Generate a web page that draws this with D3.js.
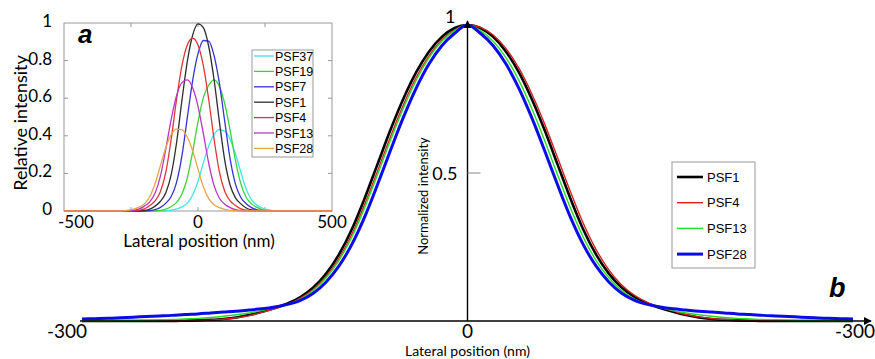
<!DOCTYPE html>
<html>
<head>
<meta charset="utf-8">
<script src="https://cdn.jsdelivr.net/npm/d3@7"></script>
<style>
  body { margin: 0; background: #fff; }
  svg { display: block; }
</style>
</head>
<body>
<svg id="chart" width="875" height="359"></svg>
<script>
// ---- panel b : normalized profiles, lateral position in nm ----
const mainPos = [-300,-290,-280,-270,-260,-250,-240,-230,-220,-210,-200,-190,-180,-170,-160,-150,-140,-130,-120,-110,
  -100,-90,-80,-70,-60,-50,-40,-30,-20,-10,0,10,20,30,40,50,60,70,80,90,100,110,120,130,140,150,160,170,180,190,
  200,210,220,230,240,250,260,270,280,290,300];
const mainNames = ["PSF1", "PSF4", "PSF13", "PSF28"];
const mainPsf1 = [0,0,0,0,0,0,0,0,.001,.002,.004,.007,.012,.02,.031,.044,.059,.081,.113,.16,.225,.31,.415,.53,.645,.75,.84,.91,.96,.99,
  1,.99,.96,.91,.84,.75,.645,.53,.415,.31,.225,.16,.113,.081,.059,.044,.031,.02,.012,.007,.004,.002,.001,0,0,0,0,0,0,0,0];
const mainPsf4 = [0,0,0,0,0,0,0,0,.001,.002,.003,.006,.011,.018,.029,.041,.056,.077,.107,.151,.212,.293,.394,.507,.622,.729,.822,.896,.95,.984,
  1,.992,.966,.92,.854,.768,.666,.553,.438,.331,.242,.173,.122,.087,.063,.047,.034,.022,.014,.008,.005,.003,.002,.001,.001,0,0,0,0,0,0];
const mainPsf13 = [.001,.001,.001,.002,.002,.003,.004,.005,.007,.009,.012,.016,.021,.027,.035,.045,.056,.074,.103,.146,.205,.284,.383,.495,.61,.718,.813,.889,.945,.981,
  1,.981,.945,.889,.813,.718,.61,.495,.383,.284,.205,.146,.103,.074,.056,.045,.035,.027,.021,.016,.012,.009,.007,.005,.004,.003,.002,.002,.001,.001,.001];
const mainPsf28 = [.007,.008,.009,.011,.013,.015,.017,.019,.022,.024,.027,.03,.033,.037,.041,.047,.056,.07,.094,.132,.186,.259,.352,.461,.576,.687,.786,.868,.93,.972,
  1,.972,.93,.868,.786,.687,.576,.461,.352,.259,.186,.132,.094,.07,.056,.047,.041,.037,.033,.03,.027,.024,.022,.019,.017,.015,.013,.011,.009,.008,.007];
const mainColors = ["#000000", "#d42222", "#22dd22", "#0b0be8"];
const mainWidths = [2.6, 1.4, 1.4, 3];
const mainXTicks = ["-300", "0", "-300"];   // as printed in the figure

// ---- panel a (inset) : relative intensity ----
const insetPos = [-500,-300,-280,-260,-240,-220,-200,-180,-160,-140,-120,-100,-80,-60,-40,-20,0,20,40,60,80,100,120,140,160,180,200,220,240,260,280,300,500];
const insetNames = ["PSF37", "PSF19", "PSF7", "PSF1", "PSF4", "PSF13", "PSF28"];
const insetPsf37 = [0,0,0,0,0,0,0,0,0,0,.001,.004,.011,.022,.042,.084,.158,.256,.346,.407,.433,.424,.381,.303,.206,.116,.059,.03,.016,.007,.002,.001,0];
const insetPsf19 = [0,0,0,0,0,0,0,0,.001,.003,.01,.024,.046,.091,.175,.315,.474,.603,.669,.698,.662,.569,.427,.268,.144,.072,.038,.019,.007,.002,.001,0,0];
const insetPsf7 = [0,0,0,0,0,0,0,.002,.007,.019,.042,.077,.152,.293,.495,.694,.837,.907,.903,.826,.677,.474,.276,.142,.072,.039,.018,.006,.002,0,0,0,0];
const insetPsf1 = [0,0,0,0,0,0,.003,.01,.026,.052,.097,.193,.363,.588,.795,.935,.995,.975,.875,.698,.473,.268,.137,.07,.038,.016,.006,.002,0,0,0,0,0];
const insetPsf4 = [0,0,0,0,.001,.004,.011,.029,.054,.104,.207,.382,.593,.773,.883,.92,.883,.773,.593,.382,.207,.104,.054,.029,.011,.004,.001,0,0,0,0,0,0];
const insetPsf13 = [0,0,0,.001,.004,.011,.026,.049,.096,.187,.331,.488,.613,.683,.697,.655,.557,.411,.254,.135,.068,.036,.018,.007,.002,0,0,0,0,0,0,0,0];
const insetPsf28 = [0,0,.001,.004,.01,.021,.038,.076,.146,.243,.338,.407,.436,.433,.394,.321,.223,.129,.066,.033,.018,.008,.003,.001,0,0,0,0,0,0,0,0,0];
const insetColors = ["#3fe6e6", "#3ad43a", "#3434d2", "#2e2e2e", "#e03535", "#b936c4", "#e9a445"];
const insetXTicks = [-500, 0, 500];
const insetYTicks = [0, 0.2, 0.4, 0.6, 0.8, 1];

const svg = d3.select("#chart");
const font = "Lato, 'Open Sans', sans-serif";

// ================= panel b =================
const x = d3.scaleLinear().domain([-300, 300]).range([82, 853]);
const y = d3.scaleLinear().domain([0, 1]).range([321, 25]);

const defs = svg.append("defs");
defs.append("marker")
  .attr("id", "arrow")
  .attr("viewBox", "0 0 10 10")
  .attr("refX", 9).attr("refY", 5)
  .attr("markerWidth", 8).attr("markerHeight", 8)
  .attr("markerUnits", "userSpaceOnUse")
  .attr("orient", "auto")
  .append("path")
  .attr("d", "M0,0 L10,5 L0,10 z")
  .attr("fill", "#000");

const mainSeries = [mainPsf1, mainPsf4, mainPsf13, mainPsf28];
const mainLine = d3.line()
  .x((d, i) => x(mainPos[i]))
  .y(d => y(d))
  .curve(d3.curveMonotoneX);

svg.append("g")
  .selectAll("path")
  .data(mainSeries)
  .enter()
  .append("path")
  .attr("d", d => mainLine(d))
  .attr("fill", "none")
  .attr("stroke", (d, i) => mainColors[i])
  .attr("stroke-width", (d, i) => mainWidths[i])
  .attr("stroke-linejoin", "round");

// axes with arrows
svg.append("line")
  .attr("x1", x(-300) - 2).attr("x2", 871)
  .attr("y1", y(0)).attr("y2", y(0))
  .attr("stroke", "#000").attr("stroke-width", 1.4)
  .attr("marker-end", "url(#arrow)");
svg.append("line")
  .attr("x1", x(0)).attr("x2", x(0))
  .attr("y1", y(0)).attr("y2", 21)
  .attr("stroke", "#000").attr("stroke-width", 1.4)
  .attr("marker-end", "url(#arrow)");

// 0.5 tick
svg.append("line")
  .attr("x1", x(0)).attr("x2", x(0) + 13)
  .attr("y1", y(0.5)).attr("y2", y(0.5))
  .attr("stroke", "#888").attr("stroke-width", 1);

const tickX = [x(-300) - 15, x(0), x(300) + 2];
svg.append("g")
  .selectAll("text")
  .data(mainXTicks)
  .enter()
  .append("text")
  .attr("x", (d, i) => tickX[i])
  .attr("y", 338)
  .attr("text-anchor", "middle")
  .style("font-family", font)
  .style("font-size", "19px")
  .text(d => d);

svg.append("text")
  .attr("x", x(0) - 12).attr("y", y(1) - 2)
  .attr("text-anchor", "end")
  .style("font-family", font).style("font-size", "18px")
  .text("1");
svg.append("text")
  .attr("x", x(0) - 10).attr("y", y(0.5) + 7)
  .attr("text-anchor", "end")
  .style("font-family", font).style("font-size", "18px")
  .text("0.5");

svg.append("text")
  .attr("x", x(0)).attr("y", 356)
  .attr("text-anchor", "middle")
  .style("font-family", font).style("font-size", "14px")
  .text("Lateral position (nm)");

svg.append("text")
  .attr("transform", "translate(428,196) rotate(-90)")
  .attr("text-anchor", "middle")
  .style("font-family", font).style("font-size", "13px")
  .text("Normalized intensity");

svg.append("text")
  .attr("x", 829).attr("y", 297)
  .style("font-family", "'Liberation Sans', Arial, sans-serif")
  .style("font-size", "27px").style("font-weight", "bold").style("font-style", "italic")
  .text("b");

// legend b
const legB = svg.append("g");
legB.append("rect")
  .attr("x", 672).attr("y", 162).attr("width", 83).attr("height", 106)
  .attr("fill", "#fff").attr("stroke", "#999").attr("stroke-width", 1);
const legBItem = legB.selectAll("g.item")
  .data(mainNames)
  .enter()
  .append("g")
  .attr("transform", (d, i) => "translate(677," + (177 + i * 25.7) + ")");
legBItem.append("line")
  .attr("x1", 0).attr("x2", 26)
  .attr("stroke", (d, i) => mainColors[i])
  .attr("stroke-width", (d, i) => mainWidths[i]);
legBItem.append("text")
  .attr("x", 30).attr("dy", "0.35em")
  .style("font-family", "'Liberation Sans', Arial, sans-serif")
  .style("font-size", "13px")
  .text(d => d);

// ================= panel a (inset) =================
const ix = d3.scaleLinear().domain([-500, 500]).range([64, 332]);
const iy = d3.scaleLinear().domain([0, 1]).range([211, 23]);

const inset = svg.append("g");
inset.append("rect")
  .attr("x", 64).attr("y", 23).attr("width", 268).attr("height", 188)
  .attr("fill", "#fff").attr("stroke", "#9a9a9a").attr("stroke-width", 1);

// inner ticks
const iTickX = [-250, 0, 250];
iTickX.forEach(t => {
  inset.append("line").attr("x1", ix(t)).attr("x2", ix(t)).attr("y1", 211).attr("y2", 207).attr("stroke", "#999");
  inset.append("line").attr("x1", ix(t)).attr("x2", ix(t)).attr("y1", 23).attr("y2", 27).attr("stroke", "#999");
});
insetYTicks.slice(1, 5).forEach(t => {
  inset.append("line").attr("x1", 64).attr("x2", 68).attr("y1", iy(t)).attr("y2", iy(t)).attr("stroke", "#999");
  inset.append("line").attr("x1", 332).attr("x2", 328).attr("y1", iy(t)).attr("y2", iy(t)).attr("stroke", "#999");
});

defs.append("clipPath").attr("id", "insetClip")
  .append("rect").attr("x", 64).attr("y", 22).attr("width", 268).attr("height", 190);

const insetSeries = [insetPsf37, insetPsf19, insetPsf7, insetPsf1, insetPsf4, insetPsf13, insetPsf28];
const insetLine = d3.line()
  .x((d, i) => ix(insetPos[i]))
  .y(d => iy(d))
  .curve(d3.curveMonotoneX);

inset.append("g")
  .attr("clip-path", "url(#insetClip)")
  .selectAll("path")
  .data(insetSeries)
  .enter()
  .append("path")
  .attr("d", d => insetLine(d))
  .attr("fill", "none")
  .attr("stroke", (d, i) => insetColors[i])
  .attr("stroke-width", 1.3);

// inset tick labels
inset.append("g")
  .selectAll("text")
  .data(insetYTicks)
  .enter()
  .append("text")
  .attr("x", 52)
  .attr("y", d => iy(d) - 2)
  .attr("dy", "0.35em")
  .attr("text-anchor", "end")
  .style("font-family", font).style("font-size", "17px")
  .text(d => d === 0 || d === 1 ? d : d.toFixed(1));

inset.append("g")
  .selectAll("text")
  .data(insetXTicks)
  .enter()
  .append("text")
  .attr("x", d => ix(d) + (d < 0 ? 12 : 0))
  .attr("y", 228)
  .attr("text-anchor", "middle")
  .style("font-family", font).style("font-size", "17px")
  .text(d => d);

inset.append("text")
  .attr("x", 199).attr("y", 247)
  .attr("text-anchor", "middle")
  .style("font-family", font).style("font-size", "17px")
  .text("Lateral position (nm)");

inset.append("text")
  .attr("transform", "translate(27,123) rotate(-90)")
  .attr("text-anchor", "middle")
  .style("font-family", font).style("font-size", "18px")
  .text("Relative intensity");

inset.append("text")
  .attr("x", 78).attr("y", 43)
  .style("font-family", "'Liberation Sans', Arial, sans-serif")
  .style("font-size", "26px").style("font-weight", "bold").style("font-style", "italic")
  .text("a");

// legend a
const legA = inset.append("g");
legA.append("rect")
  .attr("x", 252).attr("y", 50).attr("width", 61).attr("height", 107)
  .attr("fill", "#fff").attr("stroke", "#999").attr("stroke-width", 1);
const legAItem = legA.selectAll("g.item")
  .data(insetNames)
  .enter()
  .append("g")
  .attr("transform", (d, i) => "translate(254," + (56 + i * 15.4) + ")");
legAItem.append("line")
  .attr("x1", 0).attr("x2", 20)
  .attr("stroke", (d, i) => insetColors[i])
  .attr("stroke-width", 1.3);
legAItem.append("text")
  .attr("x", 21).attr("dy", "0.36em")
  .style("font-family", "'Liberation Sans', Arial, sans-serif")
  .style("font-size", "12.5px")
  .text(d => d);
</script>
</body>
</html>
